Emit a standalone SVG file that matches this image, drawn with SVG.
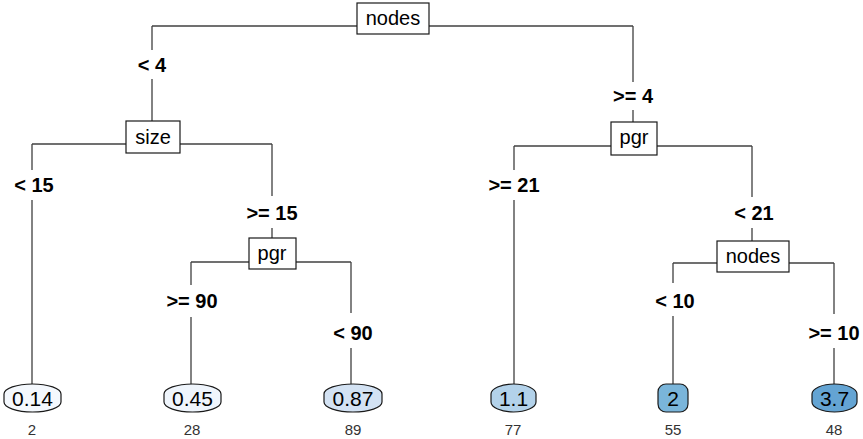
<svg xmlns="http://www.w3.org/2000/svg" width="863" height="439" viewBox="0 0 863 439">
<style>
.bg{fill:#ffffff}
.edge{stroke:#404040;stroke-width:1.3;fill:none}
.box{fill:#ffffff;stroke:#1a1a1a;stroke-width:1.2}
.leaf{stroke:#1a1a1a;stroke-width:1.2}
.nt{font-family:"Liberation Sans",Arial,sans-serif;font-size:20px;fill:#000;text-anchor:middle}
.lt{font-family:"Liberation Sans",Arial,sans-serif;font-size:21px;fill:#000;text-anchor:middle}
.st{font-family:"Liberation Sans",Arial,sans-serif;font-size:20px;font-weight:bold;fill:#000;text-anchor:middle}
.ct{font-family:"Liberation Sans",Arial,sans-serif;font-size:15px;fill:#333;text-anchor:middle}
</style>
<rect class="bg" width="863" height="439"/>
<g id="connectors">
  <path class="edge" d="M152,26 H633"/>
  <path class="edge" d="M152,26 V50 M152,79 V121"/>
  <path class="edge" d="M633,26 V82 M633,110 V122"/>
  <path class="edge" d="M32,144 H272"/>
  <path class="edge" d="M32,144 V170 M32,200 V384"/>
  <path class="edge" d="M272,144 V196 M272,228 V238"/>
  <path class="edge" d="M191,262 H351"/>
  <path class="edge" d="M191,262 V285 M191,317 V384"/>
  <path class="edge" d="M351,262 V313 M351,348 V384"/>
  <path class="edge" d="M514,146 H752"/>
  <path class="edge" d="M514,146 V170 M514,200 V384"/>
  <path class="edge" d="M752,146 V197 M752,228 V241"/>
  <path class="edge" d="M673,263 H834"/>
  <path class="edge" d="M673,263 V283 M673,316 V384"/>
  <path class="edge" d="M834,263 V314 M834,348 V384"/>
  <text class="st" x="152" y="72">&lt; 4</text>
  <text class="st" x="633" y="103">&gt;= 4</text>
  <text class="st" x="34" y="192">&lt; 15</text>
  <text class="st" x="272" y="220">&gt;= 15</text>
  <text class="st" x="192" y="308">&gt;= 90</text>
  <text class="st" x="353" y="340">&lt; 90</text>
  <text class="st" x="514" y="192">&gt;= 21</text>
  <text class="st" x="754" y="220">&lt; 21</text>
  <text class="st" x="675" y="308">&lt; 10</text>
  <text class="st" x="834" y="340">&gt;= 10</text>
</g>
<g id="n1">
  <rect class="box" x="357" y="3" width="72" height="31"/>
  <text class="nt" x="393" y="25">nodes</text>
</g>
<g id="n2">
  <rect class="box" x="126" y="121" width="54" height="32"/>
  <text class="nt" x="153" y="144">size</text>
</g>
<g id="n3">
  <rect class="box" x="611" y="122" width="46" height="33"/>
  <text class="nt" x="634" y="144">pgr</text>
</g>
<g id="n5">
  <rect class="box" x="249" y="238" width="47" height="31"/>
  <text class="nt" x="272" y="260">pgr</text>
</g>
<g id="n7">
  <rect class="box" x="717" y="241" width="72" height="31"/>
  <text class="nt" x="753" y="263">nodes</text>
</g>
<g id="leaf1">
  <path class="leaf" fill="#f4f8fd" d="M4,394 C4,388.5 16.8,384 32.5,384 C48.2,384 61,388.5 61,394 V402 C61,407.5 48.2,412 32.5,412 C16.8,412 4,407.5 4,402 Z"/>
  <text class="lt" x="32.5" y="405.5">0.14</text>
  <text class="ct" x="32" y="435">2</text>
</g>
<g id="leaf2">
  <path class="leaf" fill="#eff5fc" d="M164,394 C164,388.5 176.8,384 192.5,384 C208.2,384 221,388.5 221,394 V402 C221,407.5 208.2,412 192.5,412 C176.8,412 164,407.5 164,402 Z"/>
  <text class="lt" x="192.5" y="405.5">0.45</text>
  <text class="ct" x="192" y="435">28</text>
</g>
<g id="leaf3">
  <path class="leaf" fill="#d3e2f3" d="M324,394 C324,388.5 337,384 353,384 C369,384 382,388.5 382,394 V402 C382,407.5 369,412 353,412 C337,412 324,407.5 324,402 Z"/>
  <text class="lt" x="353" y="405.5">0.87</text>
  <text class="ct" x="353" y="435">89</text>
</g>
<g id="leaf4">
  <path class="leaf" fill="#b3d2ea" d="M491,394 C491,388.5 501.1,384 513.5,384 C525.9,384 536,388.5 536,394 V402 C536,407.5 525.9,412 513.5,412 C501.1,412 491,407.5 491,402 Z"/>
  <text class="lt" x="513.5" y="405.5">1.1</text>
  <text class="ct" x="513" y="435">77</text>
</g>
<g id="leaf5">
  <path class="leaf" fill="#7ab5da" d="M658,392 C658,387 662,384 666,384 H680 C684,384 688,387 688,392 V404 C688,409 684,412 680,412 H666 C662,412 658,409 658,404 Z"/>
  <text class="lt" x="673" y="405.5">2</text>
  <text class="ct" x="673" y="435">55</text>
</g>
<g id="leaf6">
  <path class="leaf" fill="#64a4d3" d="M812,394 C812,388.5 822.1,384 834.5,384 C846.9,384 857,388.5 857,394 V402 C857,407.5 846.9,412 834.5,412 C822.1,412 812,407.5 812,402 Z"/>
  <text class="lt" x="834.5" y="405.5">3.7</text>
  <text class="ct" x="834" y="435">48</text>
</g>
</svg>
